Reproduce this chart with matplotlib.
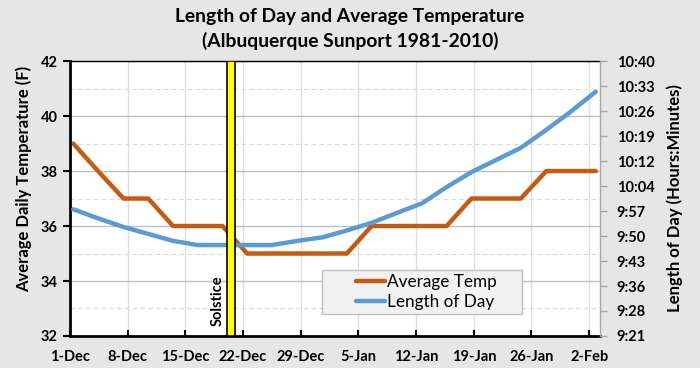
import matplotlib
matplotlib.use("Agg")
import matplotlib.pyplot as plt
from matplotlib.patches import Rectangle
from matplotlib.ticker import FixedLocator, MultipleLocator

plt.rcParams['font.family'] = ['Lato', 'DejaVu Sans']

# --- datos (dias desde el 1-Dec) ---
dias = [0.4, 3.4, 6.5, 9.5, 12.5, 15.5, 18.5, 21.5, 24.5, 27.6, 30.6,
        33.6, 36.6, 39.6, 42.7, 45.7, 48.7, 51.7, 54.7, 57.8, 60.8, 63.8]
temp_media = [39, 38, 37, 37, 36, 36, 36, 35, 35, 35, 35,
              35, 36, 36, 36, 36, 37, 37, 37, 38, 38, 38]
# duracion del dia en minutos
duracion_dia = [598.1, 595.5, 593.0, 591.0, 589.0, 587.8, 587.8, 587.8, 587.8, 589.0, 590.0,
                592.0, 594.2, 597.0, 599.8, 604.5, 608.8, 612.3, 615.8, 621.0, 626.3, 632.0]

etiquetas_x = ['1-Dec', '8-Dec', '15-Dec', '22-Dec', '29-Dec', '5-Jan',
               '12-Jan', '19-Jan', '26-Jan', '2-Feb']
ticks_x = [0, 7, 14, 21, 28, 35, 42, 49, 56, 63]
ticks_dcha = [561.6, 568.8, 576.0, 583.2, 590.4, 597.6, 604.8, 612.0, 619.2, 626.4, 633.6, 640.8]
etiquetas_dcha = ['9:21', '9:28', '9:36', '9:43', '9:50', '9:57',
                  '10:04', '10:12', '10:19', '10:26', '10:33', '10:40']
solsticio = (19.0, 20.0)

naranja = '#C55A11'
azul = '#5B9BD5'

fig = plt.figure(figsize=(7, 3.68), dpi=100, facecolor='#e6e6e6')
ax = fig.add_axes([0.1, 0.087, 0.757, 0.747])
ax.set_facecolor('white')

ax.plot(dias, temp_media, color=naranja, lw=3.2, solid_capstyle='round', zorder=2,
        label='Average Temp')
ax.set_xlim(0, 64.3)
ax.set_ylim(32, 42)
ax.yaxis.set_major_locator(MultipleLocator(2))
ax.yaxis.set_minor_locator(MultipleLocator(1))
ax.set_xticks(ticks_x)
ax.set_xticklabels(etiquetas_x)

# rejilla
ax.grid(which='major', axis='y', color='#bfbfbf', lw=1, zorder=0)
ax.grid(which='minor', axis='y', color='#d9d9d9', lw=0.8, ls=(0, (4, 3)), zorder=0)
ax.grid(which='major', axis='x', color='#dedede', lw=1, zorder=0)
ax.set_axisbelow(True)

for lado in ['left', 'bottom']:
    ax.spines[lado].set_linewidth(2)
    ax.spines[lado].set_color('black')
ax.spines['top'].set_linewidth(1)
ax.spines['top'].set_color('black')
ax.spines['right'].set_visible(False)

ax.tick_params(axis='y', which='major', direction='out', length=5, width=1.5,
               labelsize=10.5, pad=4)
ax.tick_params(axis='y', which='minor', length=0)
ax.tick_params(axis='x', direction='in', length=4, width=1.5, labelsize=10.5, pad=10)
for t in ax.get_xticklabels() + ax.get_yticklabels():
    t.set_fontweight('bold')

ax.set_ylabel('Average Daily Temperature (F)', fontsize=12, fontweight='bold')
ax.yaxis.set_label_coords(-0.072, 0.57)

# eje derecho
ax2 = ax.twinx()
ax2.plot(dias, duracion_dia, color=azul, lw=3.2, solid_capstyle='round', zorder=2,
         label='Length of Day')
ax2.set_ylim(ticks_dcha[0], ticks_dcha[-1])
ax2.yaxis.set_major_locator(FixedLocator(ticks_dcha))
ax2.set_yticklabels(etiquetas_dcha)
for lado in ['left', 'bottom', 'top']:
    ax2.spines[lado].set_visible(False)
ax2.spines['right'].set_color('#a6a6a6')
ax2.spines['right'].set_linewidth(1)
ax2.tick_params(axis='y', direction='out', length=5, width=1, color='#a6a6a6',
                labelsize=10.5, pad=7)
for t in ax2.get_yticklabels():
    t.set_fontweight('bold')
ax2.set_ylabel('Length of Day (Hours:Minutes)', fontsize=12, fontweight='bold', labelpad=9)

# solsticio
ax2.axvspan(solsticio[0], solsticio[1], facecolor='#ffff00', edgecolor='black', lw=1.2, zorder=3)
ax2.text(solsticio[0] - 0.2, ticks_dcha[0] + 3.0, 'Solstice', rotation=90, ha='right', va='bottom',
         fontsize=10.5, fontweight='bold', zorder=4)

# leyenda: marco dibujado aparte
marco = Rectangle((0.475, 0.08), 0.378, 0.16, transform=ax2.transAxes,
                  facecolor='#f2f2f2', edgecolor='#bfbfbf', lw=1, zorder=5)
ax2.add_patch(marco)
h1, l1 = ax.get_legend_handles_labels()
h2, l2 = ax2.get_legend_handles_labels()
leg = ax2.legend(h1 + h2, l1 + l2, loc='center left', bbox_to_anchor=(0.54, 0.16),
                 fontsize=12.3, frameon=False, handlelength=1.7, handletextpad=0.1,
                 borderpad=0, labelspacing=0.25, borderaxespad=0)
leg.set_zorder(6)

fig.text(0.5, 0.955, 'Length of Day and Average Temperature', ha='center', va='center',
         fontsize=13.9, fontweight='bold')
fig.text(0.5, 0.888, '(Albuquerque Sunport 1981-2010)', ha='center', va='center',
         fontsize=13.9, fontweight='bold')

fig.savefig('out.png', dpi=100, facecolor=fig.get_facecolor())
